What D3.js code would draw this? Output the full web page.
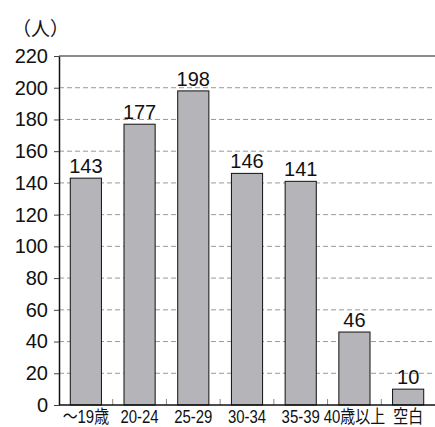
<!DOCTYPE html>
<html>
<head>
<meta charset="utf-8">
<script src="https://cdn.jsdelivr.net/npm/d3@7"></script>
<style>
  body { margin: 0; background: #fff; }
  text { font-family: "Liberation Sans", Arial, "Noto Sans CJK JP", sans-serif; fill: #111; }
</style>
</head>
<body>
<svg id="chart"></svg>
<script>
const width = 435;
const height = 427;

const categories = ['～19歳', '20-24', '25-29', '30-34', '35-39', '40歳以上', '空白'];
const counts = [143, 177, 198, 146, 141, 46, 10];
const yTicks = [0, 20, 40, 60, 80, 100, 120, 140, 160, 180, 200, 220];
const unitLabel = '（人）';

const plotLeft = 59, plotRight = 435, plotTop = 56, plotBottom = 405;

const svg = d3.select('#chart')
    .attr('width', width)
    .attr('height', height);

const x = d3.scaleBand()
    .domain(categories)
    .range([plotLeft, plotRight])
    .paddingInner(0.42)
    .paddingOuter(0.21);

const y = d3.scaleLinear().domain([0, 220]).range([plotBottom, plotTop]);

// grid lines
svg.append('g').selectAll('line')
    .data(yTicks.filter(d => d > 0 && d < 220))
    .enter().append('line')
    .attr('x1', plotLeft).attr('x2', plotRight)
    .attr('y1', d => y(d)).attr('y2', d => y(d))
    .attr('stroke', '#999')
    .attr('stroke-width', 1)
    .attr('stroke-dasharray', '5,3');

// top line
svg.append('line')
    .attr('x1', plotLeft).attr('x2', plotRight)
    .attr('y1', y(220)).attr('y2', y(220))
    .attr('stroke', '#666')
    .attr('stroke-width', 1.5);

// category separators
const step = x.step();
svg.append('g').selectAll('line')
    .data(categories.slice(1))
    .enter().append('line')
    .attr('x1', d => x(d) - x.paddingInner() * step / 2)
    .attr('x2', d => x(d) - x.paddingInner() * step / 2)
    .attr('y1', plotBottom).attr('y2', plotBottom - 6)
    .attr('stroke', '#888')
    .attr('stroke-width', 1);

// bars
svg.append('g').selectAll('rect')
    .data(categories)
    .enter().append('rect')
    .attr('x', d => x(d))
    .attr('y', (d, i) => y(counts[i]))
    .attr('width', x.bandwidth())
    .attr('height', (d, i) => y(0) - y(counts[i]))
    .attr('fill', '#b5b5b9')
    .attr('stroke', '#111')
    .attr('stroke-width', 1);

// value labels
svg.append('g').selectAll('text')
    .data(categories)
    .enter().append('text')
    .attr('x', d => x(d) + x.bandwidth() / 2)
    .attr('y', (d, i) => y(counts[i]) - 5)
    .attr('text-anchor', 'middle')
    .attr('font-size', 20)
    .text((d, i) => counts[i]);

// y axis
const yAxis = svg.append('g')
    .attr('transform', `translate(${plotLeft}, 0)`)
    .call(d3.axisLeft(y).tickValues(yTicks).tickSize(5).tickSizeOuter(0).tickPadding(6));
yAxis.select('.domain').attr('stroke', '#111').attr('stroke-width', 1.5);
yAxis.selectAll('.tick line').attr('stroke', '#444');
yAxis.selectAll('.tick text')
    .attr('font-size', 20)
    .attr('font-family', '"Liberation Sans", Arial, sans-serif')
    .attr('fill', '#111');

// x axis baseline
const xAxis = svg.append('g')
    .attr('transform', `translate(0, ${plotBottom})`)
    .call(d3.axisBottom(x).tickSize(0));
xAxis.select('.domain').attr('stroke', '#111').attr('stroke-width', 1.5)
    .attr('d', `M${plotLeft},0H${plotRight}`);
xAxis.selectAll('.tick text')
    .attr('y', 18)
    .attr('dy', 0)
    .attr('transform', 'scale(0.83,1)')
    .attr('font-size', 18)
    .attr('font-family', '"Liberation Sans", Arial, "Noto Sans CJK JP", sans-serif')
    .attr('fill', '#111');

// unit label
svg.append('text')
    .attr('x', 12)
    .attr('y', 36)
    .attr('font-size', 19)
    .attr('font-family', '"Noto Sans CJK JP", sans-serif')
    .text(unitLabel);
</script>
</body>
</html>
